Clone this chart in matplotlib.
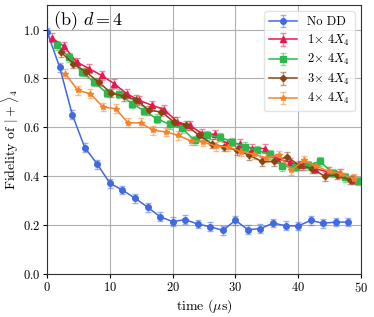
import matplotlib
matplotlib.use("Agg")
import matplotlib.pyplot as plt
import numpy as np

plt.rcParams["font.family"] = "serif"
plt.rcParams["font.serif"] = ["cmr10", "DejaVu Serif"]
plt.rcParams["mathtext.fontset"] = "cm"
plt.rcParams["axes.formatter.use_mathtext"] = True

# time axes (microseconds)
t_nodd = [0, 2, 4, 6, 8, 10, 12, 14, 16, 18, 20, 22, 24, 26, 28, 30, 32, 34, 36, 38, 40, 42, 44, 46, 48]
t_1x = [0.7 + 2 * k for k in range(25)]
t_2x = [1.5 + 2 * k for k in range(25)]
t_3x = [2.2 + 2 * k for k in range(24)]
t_4x = [2.9 + 2 * k for k in range(24)]

fid_nodd = [0.99, 0.846, 0.652, 0.517, 0.449, 0.371, 0.343, 0.310, 0.273, 0.234, 0.214, 0.222,
            0.204, 0.193, 0.178, 0.219, 0.181, 0.185, 0.208, 0.197, 0.196, 0.219, 0.207, 0.212, 0.212]
fid_1x = [0.966, 0.931, 0.867, 0.840, 0.812, 0.778, 0.737, 0.710, 0.690, 0.672, 0.622, 0.608,
          0.574, 0.571, 0.533, 0.533, 0.513, 0.513, 0.472, 0.456, 0.445, 0.430, 0.418, 0.410, 0.385]
fid_2x = [0.935, 0.887, 0.826, 0.785, 0.740, 0.737, 0.697, 0.667, 0.635, 0.612, 0.595, 0.547,
          0.567, 0.560, 0.540, 0.520, 0.505, 0.490, 0.441, 0.437, 0.445, 0.460, 0.413, 0.395, 0.380]
fid_3x = [0.907, 0.860, 0.826, 0.785, 0.740, 0.727, 0.713, 0.669, 0.663, 0.622, 0.608, 0.567,
          0.533, 0.520, 0.506, 0.486, 0.460, 0.460, 0.479, 0.445, 0.431, 0.400, 0.405, 0.384]
fid_4x = [0.819, 0.751, 0.737, 0.683, 0.676, 0.618, 0.618, 0.588, 0.581, 0.567, 0.544, 0.540,
          0.522, 0.520, 0.500, 0.490, 0.475, 0.486, 0.424, 0.465, 0.440, 0.420, 0.410, 0.390]

err = 0.018

series = [
    ("No DD", t_nodd, fid_nodd, "#4169E1", "o", 4.0),
    (r"$1\!\times\, 4X_4$", t_1x, fid_1x, "#E8174F", "^", 4.0),
    (r"$2\!\times\, 4X_4$", t_2x, fid_2x, "#2DB84D", "s", 4.0),
    (r"$3\!\times\, 4X_4$", t_3x, fid_3x, "#8B4513", "D", 3.2),
    (r"$4\!\times\, 4X_4$", t_4x, fid_4x, "#F5822A", "*", 4.0),
]

fig = plt.figure(figsize=(3.74, 3.17), dpi=100)
ax = fig.add_axes([0.126, 0.136, 0.839, 0.848])

for label, t, f, color, marker, ms in series:
    ax.errorbar(t, f, yerr=err, color=color, marker=marker, markersize=ms,
                linewidth=1.1, elinewidth=1.0, capsize=2, capthick=1.0,
                ecolor=matplotlib.colors.to_rgba(color, 0.5), label=label)

ax.set_xlim(0, 50)
ax.set_ylim(0, 1.1)
ax.set_xticks([0, 10, 20, 30, 40, 50])
ax.set_yticks([0.0, 0.2, 0.4, 0.6, 0.8, 1.0])
ax.grid(True, color="#b0b0b0", linewidth=0.8)
ax.set_axisbelow(True)
ax.tick_params(labelsize=9, length=3, pad=2)
for sp in ax.spines.values():
    sp.set_color("#333333")

ax.set_xlabel(r"time ($\mu$s)", fontsize=10, labelpad=2)
ax.set_ylabel(r"Fidelity of $|+\rangle_4$", fontsize=10, labelpad=1)
ax.text(0.02, 0.985, r"(b) $d=4$", transform=ax.transAxes, fontsize=13,
        va="top", ha="left")

ax.legend(loc="upper right", fontsize=9, handlelength=2.2, borderpad=0.4,
          labelspacing=0.35, framealpha=0.8, edgecolor="#dddddd")

fig.savefig("out.png", dpi=100)
